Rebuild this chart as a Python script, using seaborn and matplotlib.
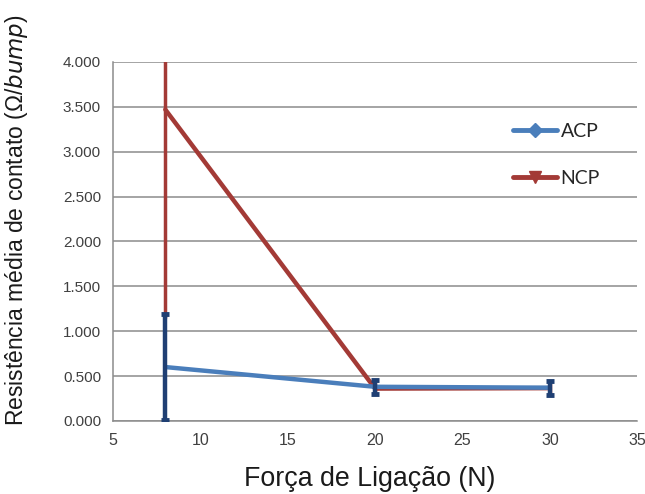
import numpy as np
import pandas as pd
import matplotlib
matplotlib.use("Agg")
import matplotlib.pyplot as plt
import seaborn as sns
from matplotlib.lines import Line2D
from matplotlib.ticker import FuncFormatter

# Bonding force (N)
forca = [8, 20, 30]
# Mean contact resistance per bump
acp = [0.60, 0.38, 0.37]
ncp = [3.47, 0.36, 0.365]
# Error bar half-widths
acp_err = [0.59, 0.08, 0.08]
ncp_err = [2.32, 0.06, 0.06]

series_names = ["ACP", "NCP"]
x_ticks = [5, 10, 15, 20, 25, 30, 35]
y_ticks = [0.0, 0.5, 1.0, 1.5, 2.0, 2.5, 3.0, 3.5, 4.0]

df = pd.DataFrame({
    "forca": forca * 2,
    "res": acp + ncp,
    "serie": ["ACP"] * 3 + ["NCP"] * 3,
})

sns.set_style("white")
plt.rcParams["font.family"] = ["Liberation Sans", "DejaVu Sans"]

blue = "#4A7EBB"
red = "#A33A36"
navy = "#1F3F73"

fig = plt.figure(figsize=(6.45, 4.94), dpi=100)
ax = fig.add_axes([0.175, 0.148, 0.813, 0.7265])

ax.set_xlim(5, 35)
ax.set_ylim(0, 4.0)
ax.set_yticks(y_ticks)
ax.set_xticks(x_ticks)
ax.grid(axis="y", color="#8c8c8c", linewidth=1.1, zorder=0)
ax.set_axisbelow(True)

# NCP error bars (drawn beneath)
ax.errorbar(forca, ncp, yerr=ncp_err, fmt="none", ecolor=red,
            elinewidth=2.5, capsize=0, zorder=2)

sns.lineplot(data=df, x="forca", y="res", hue="serie",
             hue_order=["NCP", "ACP"], palette={"ACP": blue, "NCP": red},
             linewidth=3.2, ax=ax, legend=False, zorder=3,
             estimator=None, sort=False)

# ACP error bars on top
ax.errorbar(forca, acp, yerr=acp_err, fmt="none", ecolor=navy,
            elinewidth=3.2, capsize=3, capthick=3.5, zorder=4)

for s in ["top", "right"]:
    ax.spines[s].set_visible(False)
for s in ["left", "bottom"]:
    ax.spines[s].set_color("#8c8c8c")
    ax.spines[s].set_linewidth(1.1)

ax.tick_params(axis="both", which="both", direction="out", length=5,
               width=1, color="#8c8c8c", labelsize=11, labelcolor="#404040")
ax.tick_params(axis="x", labelsize=11.5)
ax.yaxis.set_major_formatter(FuncFormatter(lambda v, p: f"{v:.3f}"))

ax.set_xlabel("Força de Ligação (N)", fontsize=19.3, color="#1a1a1a")
ax.xaxis.set_label_coords(0.49, -0.125)
ax.set_ylabel(r"Resistência média de contato (Ω/$\mathit{bump}$)",
              fontsize=16.5, color="#1a1a1a")
ax.yaxis.set_label_coords(-0.158, 0.56)

handles = [
    Line2D([], [], color=blue, linewidth=3.5, marker="D", markersize=7),
    Line2D([], [], color=red, linewidth=3.5, marker="v", markersize=9),
]
leg = ax.legend(handles, series_names, loc="upper left",
                bbox_to_anchor=(0.783, 0.767), bbox_transform=fig.transFigure,
                frameon=False, borderaxespad=0,
                prop={"family": "Lato", "size": 14}, labelspacing=1.55,
                handlelength=2.25, handletextpad=0.2)

fig.savefig("out.png", dpi=100)
